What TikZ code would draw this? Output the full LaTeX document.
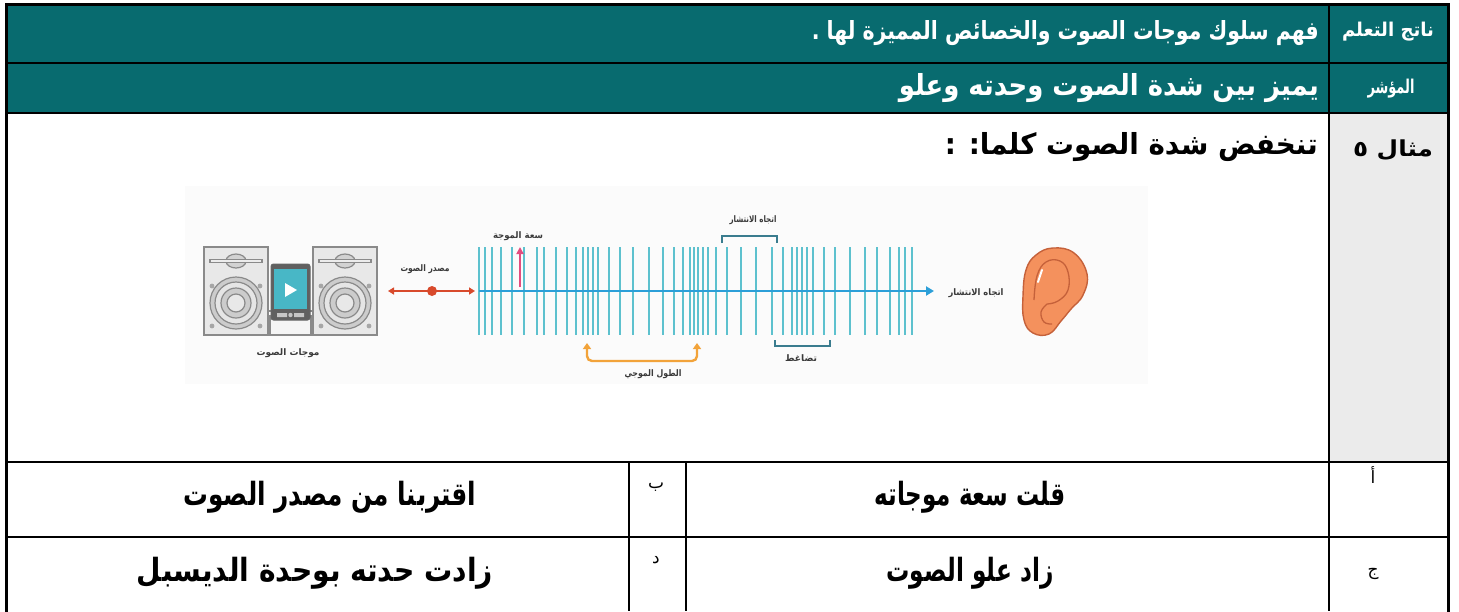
\documentclass[tikz,border=0pt]{standalone}
\usepackage{fontspec}
\usepackage{graphicx}
\usetikzlibrary{arrows.meta}
\TeXXeTstate=1
\newfontfamily\arabicfont[Script=Arabic]{DejaVu Sans}

% Arabic text fitted to a given width (pt) at a given size (pt)
\newcommand{\artxt}[3]{\resizebox{#1pt}{\height}{\fontsize{#2}{#2}\selectfont\arabicfont\bfseries #3}}
\newcommand{\arreg}[2]{{\fontsize{#1}{#1}\selectfont\arabicfont #2}}

\definecolor{headteal}{HTML}{086B6F}
\definecolor{labelgrey}{HTML}{EBEBEB}
\definecolor{photobg}{HTML}{FBFBFB}
\definecolor{spkbody}{HTML}{E8E8E8}
\definecolor{spkline}{HTML}{8A8A8A}
\definecolor{screenblue}{HTML}{48B7C6}
\definecolor{srcred}{HTML}{D84A2C}
\definecolor{wavecyan}{HTML}{5DC1CE}
\definecolor{axisblue}{HTML}{2C9FD8}
\definecolor{amppink}{HTML}{E34D7F}
\definecolor{bracketteal}{HTML}{3A7C8E}
\definecolor{waveorange}{HTML}{F2A33A}
\definecolor{earfill}{HTML}{F4915D}
\definecolor{earline}{HTML}{C5613A}
\definecolor{captiongrey}{HTML}{3A3A3A}

\tikzset{
  rule/.style={line width=2.2pt, black},
  frame/.style={line width=3pt, black, line cap=rect},
  hdr/.style={inner sep=0pt, text=white},
  cell/.style={inner sep=0pt, text=black},
  caption/.style={inner sep=0pt, text=captiongrey},
  spk/.style={draw=spkline, fill=spkbody, line width=1.4pt},
  spkpart/.style={draw=spkline, line width=1.2pt},
  wave/.style={draw=wavecyan, line width=1.8pt},
  bracket/.style={draw=bracketteal, line width=1.5pt},
}

\begin{document}
\begin{tikzpicture}[x=1pt,y=-1pt]
\useasboundingbox (0,0) rectangle (1459,611);

% ---- table backgrounds ----
\fill[headteal] (6,4) rectangle (1448,113);
\fill[labelgrey] (1329,113) rectangle (1448,462);

% ---- illustration: sound waves from a speaker system to an ear ----
\fill[photobg] (185,186) rectangle (1148,384);

% speakers
\foreach \sx in {204,313} {
  \draw[spk] (\sx,247) rectangle ++(64,88);
  \draw[spkpart, fill=gray!35] (\sx+32,261) ellipse (10pt and 7pt);
  \draw[spkpart, fill=gray!15] (\sx+6,259.5) rectangle (\sx+58,262.5);
  \draw[spkpart, fill=gray!40] (\sx+32,303) circle (26pt);
  \draw[spkpart, fill=gray!20] (\sx+32,303) circle (21pt);
  \draw[spkpart, fill=gray!40] (\sx+32,303) circle (15pt);
  \draw[spkpart, fill=gray!18] (\sx+32,303) circle (9pt);
  \foreach \dx/\dy in {8/286,56/286,8/326,56/326}
    \fill[gray!70] (\sx+\dx,\dy) circle (2.4pt);
}
% dock and player
\draw[spkpart, fill=gray!8] (270,316) rectangle (311,335);
\draw[spkpart] (267,311) -- (272,311) (309,311) -- (313,311);
\draw[draw=gray!80!black, fill=gray!75!black, line width=1pt, rounded corners=2.5pt] (271,264) rectangle (310,320);
\fill[screenblue] (274,269) rectangle (307,309);
\fill[white] (285,283) -- (285,297) -- (297,290) -- cycle;
\fill[gray!45] (277,313) rectangle (287,317) (294,313) rectangle (304,317);
\fill[gray!45] (290.5,315) circle (2.2pt);
\node[caption] (cap-waves) at (288,353) {\artxt{63}{9}{\beginR موجات الصوت\endR}};

% source marker
\coordinate (src-l) at (388,291);
\coordinate (src-r) at (475,291);
\draw[srcred, line width=2pt, {Triangle[length=6pt,width=7pt]}-{Triangle[length=6pt,width=7pt]}] (src-l) -- (src-r);
\node[circle, fill=srcred, inner sep=0pt, minimum size=10pt] (src) at (432,291) {};
\node[caption] (cap-src) at (425,269) {\artxt{49}{9}{\beginR مصدر الصوت\endR}};

% compressions and rarefactions
\foreach \lx in {479,485,492,501,512,524,537,544,556,567,576,583,588,593,598,609,620,633,649,663,674,683,690,694,698,703,708,716,727,741,756,772,783,792,797,802,807,813,824,835,850,865,877,890,899,905,912}
  \draw[wave] (\lx,247) -- (\lx,335);

% propagation axis
\coordinate (axis-start) at (479,291);
\coordinate (axis-end) at (934,291);
\draw[axisblue, line width=2.4pt, -{Triangle[length=8pt,width=9pt]}] (axis-start) -- (axis-end);
\node[caption] (cap-dir) at (976,293) {\artxt{55}{9}{\beginR اتجاه الانتشار\endR}};

% amplitude
\coordinate (amp-base) at (520,287);
\coordinate (amp-top) at (520,247);
\draw[amppink, line width=2pt, -{Triangle[length=7pt,width=7pt]}] (amp-base) -- (amp-top);
\node[caption] (cap-amp) at (518,236) {\artxt{50}{9}{\beginR سعة الموجة\endR}};

% direction bracket (top)
\coordinate (bt-l) at (722,243);
\coordinate (bt-r) at (777,243);
\draw[bracket] (bt-l) -- (722,236) -- (777,236) -- (bt-r);
\node[caption] (cap-top) at (753,220) {\artxt{47}{9}{\beginR اتجاه الانتشار\endR}};

% compression bracket (bottom)
\coordinate (bb-l) at (775,340);
\coordinate (bb-r) at (830,340);
\draw[bracket] (bb-l) -- (775,346) -- (830,346) -- (bb-r);
\node[caption] (cap-comp) at (801,358) {\artxt{32}{9}{\beginR تضاغط\endR}};

% wavelength
\coordinate (wl-l) at (587,343);
\coordinate (wl-r) at (697,343);
\draw[waveorange, line width=2.4pt, rounded corners=5pt, {Triangle[length=6pt,width=8pt]}-{Triangle[length=6pt,width=8pt]}] (wl-l) -- (587,361) -- (697,361) -- (wl-r);
\node[caption] (cap-wl) at (653,374) {\artxt{57}{9}{\beginR الطول الموجي\endR}};

% ear
\draw[fill=earfill, draw=earline, line width=1.4pt] plot[smooth cycle, tension=0.7] coordinates {
  (1053,248) (1074,253) (1087,274) (1083,295) (1071,309) (1061,321) (1049,334)
  (1033,333) (1024,320) (1023,296) (1026,270) (1036,255)};
\draw[earline, line width=1.3pt] plot[smooth, tension=0.7] coordinates {
  (1034,300) (1037,276) (1046,262) (1060,261) (1068,272) (1068,290) (1058,301) (1047,304)};
\draw[earline, line width=1.3pt] plot[smooth, tension=0.7] coordinates {
  (1047,304) (1041,312) (1044,322) (1052,324)};
\draw[white, line width=2pt, line cap=round] (1038,282) -- (1042,270);

% ---- table rules ----
\draw[rule] (6,63) -- (1448,63);
\draw[rule] (6,113) -- (1448,113);
\draw[rule] (6,462) -- (1448,462);
\draw[rule] (6,537) -- (1448,537);
\draw[rule] (1329,4) -- (1329,611);
\draw[rule] (629,462) -- (629,611);
\draw[rule] (686,462) -- (686,611);
\draw[frame] (6,611) -- (6,4) -- (1448,4) -- (1448,611);

% ---- header rows ----
\node[hdr] (lbl-outcome) at (1388,32) {\artxt{92}{19}{\beginR ناتج التعلم\endR}};
\node[hdr, anchor=east] (outcome) at (1319,33) {\artxt{507}{25}{\beginR فهم سلوك موجات الصوت والخصائص المميزة لها .\endR}};
\node[hdr] (lbl-indicator) at (1391,89) {\artxt{47}{19}{\beginR المؤشر\endR}};
\node[hdr, anchor=east] (indicator) at (1319,88) {\artxt{420}{29}{\beginR يميز بين شدة الصوت وحدته وعلو\endR}};

% ---- example row ----
\node[cell] (lbl-example) at (1393,150) {\artxt{80}{22}{\beginR مثال ٥\endR}};
\node[cell, anchor=east] (question) at (1318,147) {\artxt{373}{29}{\beginR تنخفض شدة الصوت كلما: :\endR}};

% ---- answer choices ----
\node[cell] (key-a) at (1373,475) {\arreg{17}{\beginR أ\endR}};
\node[cell] (ans-a) at (970,497) {\artxt{191}{32}{\beginR قلت سعة موجاته\endR}};
\node[cell] (key-b) at (656,487) {\arreg{17}{\beginR ب\endR}};
\node[cell] (ans-b) at (330,497) {\artxt{293}{32}{\beginR اقتربنا من مصدر الصوت\endR}};
\node[cell] (key-c) at (1373,574) {\arreg{17}{\beginR ج\endR}};
\node[cell] (ans-c) at (970,573) {\artxt{167}{32}{\beginR زاد علو الصوت\endR}};
\node[cell] (key-d) at (656,560) {\arreg{17}{\beginR د\endR}};
\node[cell] (ans-d) at (315,573) {\artxt{356}{32}{\beginR زادت حدته بوحدة الديسبل\endR}};
\end{tikzpicture}
\end{document}
